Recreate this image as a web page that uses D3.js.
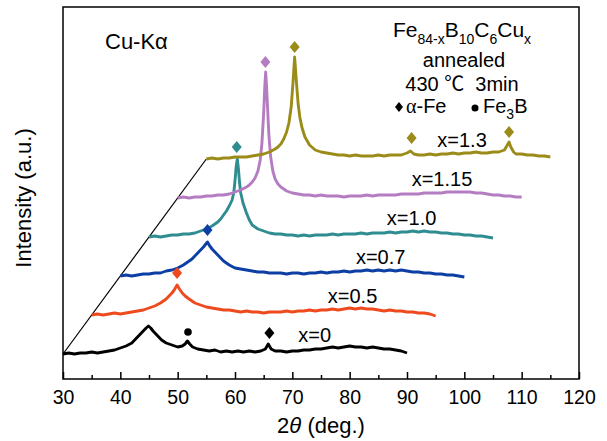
<!DOCTYPE html>
<html>
<head>
<meta charset="utf-8">
<script src="https://cdn.jsdelivr.net/npm/d3@7"></script>
<style>
  body { margin: 0; background: #fff; }
  text { font-family: "Liberation Sans", Arial, "Noto Sans CJK SC", sans-serif; fill: #000; }
</style>
</head>
<body>
<div class="chart"></div>
<script>
// sample names and trace colours
const samples = ["x=0", "x=0.5", "x=0.7", "x=1.0", "x=1.15", "x=1.3"];
const colors = ["#000000", "#ee4a1e", "#0c3ea3", "#2f8c90", "#b57dc1", "#9b8b18"];

// waterfall offsets: each pattern shifted by 5 deg and 39 a.u.
const shiftDeg = [0, 5, 10, 15, 20, 25];
const shiftInt = [0, 39, 78, 117, 156, 195];

// patterns as [2theta, intensity a.u.]
const p0 = [[30,0],[31,1],[32,0],[33,1],[34,1],[35,2],[36,1],[37,2],[38,3],[39,4],[40,6],[41,8],[42,11],[42.5,14],[43,17],[43.5,20],[44,23],[44.5,26],[44.9,28],[45.3,26],[45.7,23],[46.2,20],[46.7,17],[47.2,14],[48,11],[49,9],[50,7],[50.8,8],[51.3,10],[51.7,13],[52.1,10],[52.6,7],[53.5,5],[54.5,4],[55.5,3],[56.5,4],[57.5,2],[58.5,3],[59.5,2],[60.5,3],[61.5,2],[62.5,3],[63.5,2],[64.5,3],[65.3,5],[65.8,10],[66.3,5],[67,3],[68,3],[69,2],[70,3],[71,3],[72,4],[73,4],[74,5],[75,5],[76,6],[77,7],[78,6],[79,7],[80,8],[81,7],[82,7],[83,6],[84,7],[85,6],[86,5],[87,5],[88,4],[89,3],[90,1]];
const p1 = [[30,0],[31,1],[32,0],[33,1],[34,2],[35,1],[36,2],[37,3],[38,4],[39,5],[40,7],[41,9],[42,12],[42.5,14],[43,16],[43.5,19],[44,22],[44.4,25],[44.9,30],[45.3,26],[45.8,22],[46.3,19],[47,16],[47.5,14],[48,12],[49,10],[50,8],[51,7],[52,6],[53,5],[54,5],[55,4],[56,3],[57,4],[58,3],[59,3],[60,2],[61,3],[62,3],[63,3],[64,4],[65,3],[66,4],[67,4],[68,5],[69,4],[70,5],[71,5],[72,6],[73,5],[74,6],[75,7],[76,6],[77,7],[78,6],[79,6],[80,5],[81,4],[82,5],[83,4],[84,4],[85,3],[86,3],[87,2],[88,2],[89,1],[90,-1]];
const p2 = [[30,0],[31,1],[32,0],[33,1],[34,2],[35,2],[36,3],[37,3],[38,5],[39,6],[40,8],[41,11],[42,15],[42.5,17],[43,20],[43.5,23],[44,26],[44.5,29],[45.2,34],[45.6,30],[46,27],[46.5,24],[47,21],[47.5,18],[48,15],[49,11],[50,8],[51,7],[52,6],[53,5],[54,4],[55,4],[56,3],[57,3],[58,3],[59,2],[60,3],[61,3],[62,2],[63,3],[64,3],[65,4],[66,3],[67,4],[68,4],[69,5],[70,4],[71,5],[72,5],[73,6],[74,5],[75,6],[76,5],[77,6],[78,5],[79,6],[80,5],[81,4],[82,4],[83,3],[84,3],[85,2],[86,2],[87,1],[88,1],[89,0],[90,-1]];
const p3 = [[30,0],[31,1],[32,0],[33,1],[34,2],[35,2],[36,3],[37,3],[38,4],[39,6],[40,8],[41,11],[42,15],[42.5,18],[43,22],[43.5,26],[44,31],[44.5,37],[44.8,45],[45,56],[45.2,70],[45.4,78],[45.6,68],[45.8,54],[46,44],[46.4,34],[47,24],[47.5,17],[48,12],[49,8],[50,6],[51,4],[52,3],[53,3],[54,2],[55,2],[56,1],[57,2],[58,1],[59,2],[60,2],[61,2],[62,3],[63,2],[64,3],[65,3],[66,3],[67,4],[68,3],[69,4],[70,4],[71,4],[72,5],[73,4],[74,5],[75,5],[76,6],[77,5],[78,6],[79,5],[80,5],[81,4],[82,4],[83,3],[84,3],[85,2],[86,2],[87,1],[88,1],[89,0],[90,-1]];
const p4 = [[30,0],[31,1],[32,0],[33,1],[34,1],[35,2],[36,2],[37,3],[38,3],[39,4],[40,6],[41,8],[42,11],[42.5,13],[43,16],[43.5,20],[44,27],[44.4,38],[44.7,55],[45,85],[45.2,112],[45.35,126],[45.5,112],[45.7,88],[45.9,64],[46.2,42],[46.6,27],[47,19],[47.5,14],[48,11],[49,7],[50,5],[51,4],[52,3],[53,3],[54,2],[55,3],[56,2],[57,2],[58,2],[59,1],[60,2],[61,2],[62,2],[63,3],[64,2],[65,3],[66,3],[67,3],[68,3],[69,4],[70,4],[71,4],[72,4],[73,5],[74,5],[75,5],[76,5],[77,6],[78,6],[79,6],[80,6],[81,6],[82,5],[83,5],[84,4],[85,3],[86,3],[87,2],[88,2],[89,1],[90,1]];
const p5 = [[30,0],[31,1],[32,0],[33,1],[34,1],[35,2],[36,2],[37,2],[38,3],[39,4],[40,5],[41,7],[42,10],[42.5,12],[43,15],[43.5,20],[44,27],[44.4,36],[44.8,52],[45.1,75],[45.4,102],[45.7,78],[46,56],[46.3,42],[46.7,31],[47.2,22],[48,14],[49,9],[50,7],[51,6],[52,5],[53,4],[54,4],[55,3],[56,4],[57,3],[58,3],[59,3],[60,4],[61,3],[62,4],[63,4],[64,4],[65,6],[65.6,8],[66.2,5],[67,4],[68,4],[69,5],[70,4],[71,5],[72,5],[73,6],[74,5],[75,6],[76,6],[77,7],[78,6],[79,6],[80,7],[81,7],[82,9],[82.5,14],[82.8,17],[83.1,12],[83.6,7],[84,5],[85,5],[86,4],[87,4],[88,3],[89,3],[90,2]];
const patterns = [p0, p1, p2, p3, p4, p5];

// phase markers: pattern index, 2theta (unshifted), height above that pattern, phase
const markerSeries = [0, 0, 1, 2, 3, 4, 5, 5, 5];
const markerAngle = [51.8, 66.0, 44.9, 45.2, 45.3, 45.3, 45.4, 65.8, 82.8];
const markerHeight = [22, 21, 42, 46, 90, 136, 112, 21, 27];
const markerPhase = ["Fe3B", "aFe", "aFe", "aFe", "aFe", "aFe", "aFe", "aFe", "aFe"];

const xTicks = [30, 40, 50, 60, 70, 80, 90, 100, 110, 120];
const xMinor = [35, 45, 55, 65, 75, 85, 95, 105, 115];

const W = 607, H = 441;
const margin = {left: 63, right: 28, top: 7, bottom: 62};
const width = W - margin.left - margin.right;
const height = H - margin.top - margin.bottom;

const svg = d3.select(".chart").append("svg")
  .attr("width", W)
  .attr("height", H);

const x = d3.scaleLinear().domain([30, 120]).range([margin.left, margin.left + width]);
const y = d3.scaleLinear().domain([-25, 347]).range([margin.top + height, margin.top]);

// bottom axis, ticks pointing inward
svg.append("g")
  .attr("transform", "translate(0," + (margin.top + height) + ")")
  .call(d3.axisBottom(x).tickValues(xTicks).tickSizeInner(-7).tickSizeOuter(0).tickPadding(11))
  .call(g => g.select(".domain").remove())
  .call(g => g.selectAll("line").attr("stroke-width", 1.5))
  .call(g => g.selectAll("text").attr("font-size", "19.5px").attr("font-family", "Liberation Sans, Arial, sans-serif"));

svg.append("g")
  .attr("transform", "translate(0," + (margin.top + height) + ")")
  .call(d3.axisBottom(x).tickValues(xMinor).tickSizeInner(-4).tickSizeOuter(0).tickFormat(""))
  .call(g => g.select(".domain").remove())
  .call(g => g.selectAll("line").attr("stroke-width", 1.5));

svg.append("rect")
  .attr("x", margin.left)
  .attr("y", margin.top)
  .attr("width", width)
  .attr("height", height)
  .attr("fill", "none")
  .attr("stroke", "#000")
  .attr("stroke-width", 1.5);

// guide line through the start of each pattern
const starts = patterns.map((p, i) => [p[0][0] + shiftDeg[i], p[0][1] + shiftInt[i]]);
svg.append("path")
  .attr("fill", "none")
  .attr("stroke", "#000")
  .attr("stroke-width", 1.2)
  .attr("d", d3.line().x(d => x(d[0])).y(d => y(d[1]))([starts[0], starts[starts.length - 1]]));

// traces (thick stroke stands in for the noise band)
patterns.forEach(function(p, i) {
  const line = d3.line()
    .x(d => x(d[0] + shiftDeg[i]))
    .y(d => y(d[1] + shiftInt[i]));
  svg.append("path")
    .attr("fill", "none")
    .attr("stroke", colors[i])
    .attr("stroke-width", 2.9)
    .attr("stroke-linejoin", "round")
    .attr("d", line(p));
});

// markers
const diamond = "M0,-6L5,0L0,6L-5,0Z";
markerSeries.forEach(function(s, k) {
  const cx = x(markerAngle[k] + shiftDeg[s]);
  const cy = y(markerHeight[k] + shiftInt[s]);
  if (markerPhase[k] === "Fe3B") {
    svg.append("circle").attr("cx", cx).attr("cy", cy).attr("r", 3.8).attr("fill", colors[s]);
  } else {
    svg.append("path").attr("d", diamond).attr("transform", "translate(" + cx + "," + cy + ")").attr("fill", colors[s]);
  }
});

// sample labels
const labelAngle = [73.9, 80.5, 85.4, 90.8, 96.1, 99.6];
samples.forEach(function(s, i) {
  svg.append("text")
    .attr("x", x(labelAngle[i]))
    .attr("y", y(shiftInt[i] + 12))
    .attr("text-anchor", "middle")
    .attr("font-size", "20px")
    .text(s);
});

// annotations
svg.append("text").attr("x", 105).attr("y", 49).attr("font-size", "22px").text("Cu-Kα");

const formula = svg.append("text").attr("x", 462).attr("y", 37).attr("text-anchor", "middle").attr("font-size", "21px");
[["Fe", false], ["84-x", true], ["B", false], ["10", true], ["C", false], ["6", true], ["Cu", false], ["x", true]].forEach(function(t) {
  formula.append("tspan")
    .attr("font-size", t[1] ? "14px" : "21px")
    .attr("dy", t[1] ? 7 : -7)
    .text(t[0]);
});
formula.select("tspan").attr("dy", 0);

svg.append("text").attr("x", 464).attr("y", 67).attr("text-anchor", "middle").attr("font-size", "20px").text("annealed");
svg.append("text").attr("x", 462).attr("y", 91).attr("text-anchor", "middle").attr("font-size", "20px")
  .attr("xml:space", "preserve").text("430 ℃  3min");

// legend
svg.append("path").attr("d", "M0,-5L4,0L0,5L-4,0Z").attr("transform", "translate(399,107)");
svg.append("text").attr("x", 406).attr("y", 113).attr("font-size", "20px")
  .call(t => t.append("tspan").attr("font-family", "Liberation Serif, Times New Roman, serif").text("α"))
  .call(t => t.append("tspan").text("-Fe"));
svg.append("circle").attr("cx", 475).attr("cy", 108).attr("r", 3.5);
svg.append("text").attr("x", 483).attr("y", 113).attr("font-size", "20px")
  .call(t => t.append("tspan").text("Fe"))
  .call(t => t.append("tspan").attr("font-size", "14px").attr("dy", 6).text("3"))
  .call(t => t.append("tspan").attr("dy", -6).text("B"));

// axis titles
svg.append("text")
  .attr("x", margin.left + width / 2)
  .attr("y", 433)
  .attr("text-anchor", "middle")
  .attr("font-size", "22px")
  .call(t => t.append("tspan").text("2"))
  .call(t => t.append("tspan").attr("font-style", "italic").text("θ"))
  .call(t => t.append("tspan").text(" (deg.)"));

svg.append("text")
  .attr("transform", "rotate(-90)")
  .attr("x", -(margin.top + height / 2) - 5)
  .attr("y", 31)
  .attr("text-anchor", "middle")
  .attr("font-size", "22px")
  .text("Intensity (a.u.)");
</script>
</body>
</html>
